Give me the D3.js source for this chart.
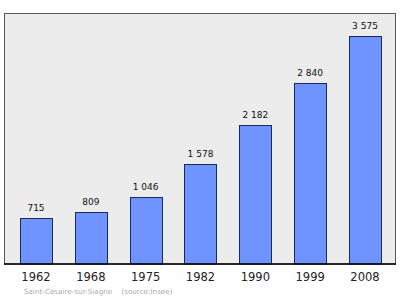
<!DOCTYPE html>
<html>
<head>
<meta charset="utf-8">
<script src="https://cdn.jsdelivr.net/npm/d3@7"></script>
<style>
  html, body { margin: 0; padding: 0; background: #fff; }
  svg { display: block; font-family: "DejaVu Sans", Verdana, sans-serif; }
</style>
</head>
<body>
<div id="chart"></div>
<script>
// Bevölkerung Saint-Césaire-sur-Siagne
const years = ['1962', '1968', '1975', '1982', '1990', '1999', '2008'];
const population = [715, 809, 1046, 1578, 2182, 2840, 3575];
const valueLabels = ['715', '809', '1 046', '1 578', '2 182', '2 840', '3 575'];
const sourceText = 'Saint-Césaire-sur-Siagne    (source:Insee)';

const W = 400, H = 299;
const frame = { left: 4.5, right: 395.5, top: 13.5, bottom: 264 };

const svg = d3.select('#chart').append('svg')
  .attr('width', W).attr('height', H);

// Hintergrund / Rahmen
svg.append('rect')
  .attr('x', frame.left).attr('y', frame.top)
  .attr('width', frame.right - frame.left)
  .attr('height', frame.bottom - frame.top)
  .attr('fill', '#ececec')
  .attr('stroke', '#555')
  .attr('stroke-width', 1);

const x = d3.scaleBand()
  .domain(years)
  .range([9, 392])
  .paddingInner(0.415)
  .paddingOuter(0.2);

const y = d3.scaleLinear()
  .domain([0, 3935])
  .range([frame.bottom, frame.top]);

// Balken
svg.append('g').selectAll('rect')
  .data(population)
  .join('rect')
  .attr('x', (d, i) => Math.round(x(years[i])) + 0.5)
  .attr('y', d => Math.round(y(d)) + 0.5)
  .attr('width', Math.round(x.bandwidth()))
  .attr('height', d => frame.bottom - Math.round(y(d)) - 0.5)
  .attr('fill', '#7094ff')
  .attr('stroke', '#1a2a5a')
  .attr('stroke-width', 1);

// Werte über den Balken
svg.append('g').selectAll('text')
  .data(population)
  .join('text')
  .attr('x', (d, i) => x(years[i]) + x.bandwidth() / 2)
  .attr('y', d => y(d) - 7)
  .attr('text-anchor', 'middle')
  .attr('font-size', 9)
  .attr('fill', '#111')
  .text((d, i) => valueLabels[i]);

// x-Achse
const xAxis = d3.axisBottom(x).tickSize(0).tickPadding(9);
svg.append('g')
  .attr('transform', `translate(0,${frame.bottom})`)
  .call(xAxis)
  .call(g => {
    g.select('.domain').remove();
    g.selectAll('.tick text')
      .attr('font-family', '"DejaVu Sans", Verdana, sans-serif')
      .attr('font-size', 11.5)
      .attr('fill', '#222');
  });

// Grundlinie
svg.append('line')
  .attr('x1', frame.left - 0.5).attr('x2', frame.right + 0.5)
  .attr('y1', frame.bottom).attr('y2', frame.bottom)
  .attr('stroke', '#000')
  .attr('stroke-width', 1.6);

// Quelle
svg.append('text')
  .attr('x', 24)
  .attr('y', 294)
  .attr('font-size', 7.2)
  .attr('fill', '#aaa')
  .attr('xml:space', 'preserve')
  .style('white-space', 'pre')
  .text(sourceText);
</script>
</body>
</html>
